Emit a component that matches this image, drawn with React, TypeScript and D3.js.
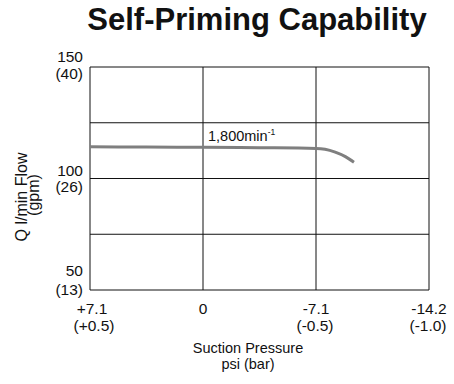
import React from "react";
import * as d3 from "d3";

const xTicksBar = [0.5, 0, -0.5, -1.0];
const xTickPsi = ["+7.1", "0", "-7.1", "-14.2"];
const xTickBar = ["(+0.5)", "", "(-0.5)", "(-1.0)"];
const yGrid = [150, 125, 100, 75, 50];
const yLabelValues = [150, 100, 50];
const yLabelGpm = ["(40)", "(26)", "(13)"];
const curveX = [0.5, 0.25, 0, -0.25, -0.5, -0.54, -0.585, -0.63, -0.668];
const curveY = [114.2, 114.1, 114.0, 113.8, 113.5, 113.1, 111.8, 109.8, 107.3];

export default function App() {
  const W = 454, H = 384;
  const left = 90, right = 429, top = 67, bottom = 290;
  const x = d3.scaleLinear().domain([0.5, -1.0]).range([left, right]);
  const y = d3.scaleLinear().domain([50, 150]).range([bottom, top]);
  const line = d3
    .line<number>()
    .x((_, i) => x(curveX[i]))
    .y((d) => y(d))
    .curve(d3.curveMonotoneX);
  const font = "Liberation Sans, Arial, sans-serif";
  const labelOffsets = [
    [-5, 12],
    [-3, 13],
    [-14, 5],
  ];
  return (
    <svg
      width={W}
      height={H}
      style={{ position: "absolute", left: 0, top: 0, background: "#fff" }}
      fontFamily={font}
    >
      <text x={257} y={30} textAnchor="middle" fontSize={31} fontWeight="bold" fill="#111">
        Self-Priming Capability
      </text>
      {yGrid.map((v) => (
        <line key={"h" + v} x1={left} x2={right} y1={y(v)} y2={y(v)} stroke="#111" strokeWidth={1} />
      ))}
      {xTicksBar.map((v) => (
        <line key={"v" + v} x1={x(v)} x2={x(v)} y1={top} y2={bottom} stroke="#111" strokeWidth={1} />
      ))}
      <path d={line(curveY) || ""} fill="none" stroke="#7f7f7f" strokeWidth={3} />
      <text x={208} y={141} fontSize={14.5} fill="#111">
        1,800min
        <tspan dy={-6} fontSize={8.5}>-1</tspan>
      </text>
      {yLabelValues.map((v, i) => (
        <g key={"yl" + v}>
          <text x={83} y={y(v) + labelOffsets[i][0]} textAnchor="end" fontSize={15.5} fill="#111">
            {v}
          </text>
          <text x={83} y={y(v) + labelOffsets[i][1]} textAnchor="end" fontSize={15.5} fill="#111">
            {yLabelGpm[i]}
          </text>
        </g>
      ))}
      {xTicksBar.map((v, i) => (
        <g key={"xl" + v}>
          <text x={x(v) + (i === 0 ? 2 : 0)} y={314} textAnchor="middle" fontSize={15.5} fill="#111">
            {xTickPsi[i]}
          </text>
          <text x={x(v) + (i === 0 ? 4 : -1)} y={331} textAnchor="middle" fontSize={15.5} fill="#111">
            {xTickBar[i]}
          </text>
        </g>
      ))}
      <text x={248} y={353} textAnchor="middle" fontSize={14.5} fill="#111">
        Suction Pressure
      </text>
      <text x={248} y={369} textAnchor="middle" fontSize={14.5} fill="#111">
        psi (bar)
      </text>
      <g transform="translate(27,197) rotate(-90)">
        <text x={0} y={0} textAnchor="middle" fontSize={16} fill="#111">
          Q l/min Flow
        </text>
        <text x={2} y={12} textAnchor="middle" fontSize={16} fill="#111">
          (gpm)
        </text>
      </g>
    </svg>
  );
}
